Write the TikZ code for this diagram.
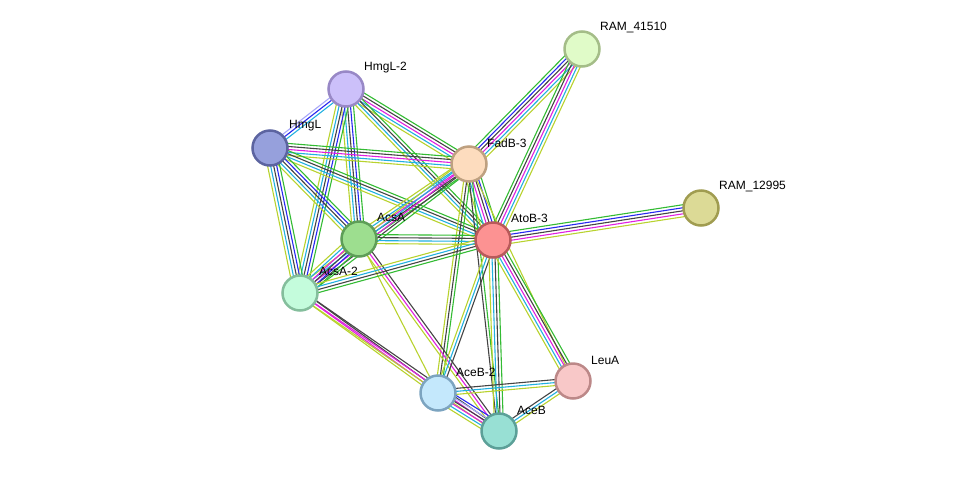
\documentclass[tikz,border=0pt]{standalone}
\usepackage{fontspec}
\setmainfont{Liberation Sans}
\usepackage{xcolor}
\definecolor{grn}{HTML}{33BB33}
\definecolor{blu}{HTML}{2828F0}
\definecolor{blk}{HTML}{444444}
\definecolor{mag}{HTML}{E020E0}
\definecolor{cyn}{HTML}{22B0E0}
\definecolor{yel}{HTML}{B8D22E}
\definecolor{lav}{HTML}{A8A8F8}
\usetikzlibrary{calc}
\pgfdeclarelayer{edges}
\pgfsetlayers{edges,main}
% one bundle of parallel evidence lines between two proteins
\newcommand{\linkset}[3]{%
  \foreach \c [count=\i] in {#3} {\xdef\nlines{\i}}%
  \foreach \c [count=\i] in {#3} {%
    \pgfmathsetmacro{\off}{((\nlines+1)/2-\i)*3}%
    \draw[link, \c] ($(#1)!\off pt!90:(#2)$) -- ($(#2)!\off pt!-90:(#1)$);
  }}

\begin{document}
\begin{tikzpicture}[x=1pt, y=-1pt,
    prot/.style={circle, minimum size=35pt, inner sep=0pt, line width=2.5pt},
    lbl/.style={anchor=west, inner sep=0pt, font=\fontsize{12}{14}\selectfont},
    link/.style={line width=1.1pt}]
  \useasboundingbox (0,0) rectangle (976,477);
  \node[prot, draw={rgb,255:red,164;green,189;blue,136}, fill={rgb,255:red,224;green,251;blue,200}] (r41) at (582,49) {};
  \node[prot, draw={rgb,255:red,152;green,136;blue,198}, fill={rgb,255:red,204;green,192;blue,250}] (hm2) at (346,89) {};
  \node[prot, draw={rgb,255:red,92;green,100;blue,160}, fill={rgb,255:red,150;green,160;blue,220}] (hm) at (270,148) {};
  \node[prot, draw={rgb,255:red,190;green,160;blue,128}, fill={rgb,255:red,253;green,220;blue,190}] (fad) at (469,164) {};
  \node[prot, draw={rgb,255:red,160;green,156;blue,80}, fill={rgb,255:red,220;green,218;blue,150}] (r12) at (701,208) {};
  \node[prot, draw={rgb,255:red,94;green,158;blue,88}, fill={rgb,255:red,157;green,222;blue,143}] (acs) at (359,239) {};
  \node[prot, draw={rgb,255:red,184;green,90;blue,90}, fill={rgb,255:red,252;green,146;blue,146}] (ato) at (493,240) {};
  \node[prot, draw={rgb,255:red,132;green,190;blue,156}, fill={rgb,255:red,196;green,252;blue,220}] (acs2) at (300,293) {};
  \node[prot, draw={rgb,255:red,188;green,136;blue,136}, fill={rgb,255:red,248;green,200;blue,200}] (leu) at (573,381) {};
  \node[prot, draw={rgb,255:red,124;green,164;blue,192}, fill={rgb,255:red,196;green,232;blue,252}] (aceb2) at (438,393) {};
  \node[prot, draw={rgb,255:red,92;green,160;blue,152}, fill={rgb,255:red,152;green,224;blue,212}] (aceb) at (499,431) {};

  \node[lbl] (lr41) at ($(r41)+(18,-21)$) {RAM\_41510};
  \node[lbl] (lhm2) at ($(hm2)+(18,-21)$) {HmgL-2};
  \node[lbl] (lhm) at ($(hm)+(19,-22)$) {HmgL};
  \node[lbl] (lfad) at ($(fad)+(18,-21)$) {FadB-3};
  \node[lbl] (lr12) at ($(r12)+(18,-22)$) {RAM\_12995};
  \node[lbl] (lacs) at ($(acs)+(18,-22)$) {AcsA};
  \node[lbl] (lato) at ($(ato)+(18,-22)$) {AtoB-3};
  \node[lbl] (lacs2) at ($(acs2)+(19,-22)$) {AcsA-2};
  \node[lbl] (lleu) at ($(leu)+(18,-21)$) {LeuA};
  \node[lbl] (laceb2) at ($(aceb2)+(18,-21)$) {AceB-2};
  \node[lbl] (laceb) at ($(aceb)+(18,-21)$) {AceB};

  \begin{pgfonlayer}{edges}
    \linkset{fad}{r41}{grn,blu,blk,mag,cyn,yel}
    \linkset{ato}{r41}{grn,blk,mag,cyn,yel}
    \linkset{ato}{r12}{grn,blu,blk,mag,yel}
    \linkset{hm}{hm2}{lav,blu,cyn}
    \linkset{hm2}{fad}{grn,blk,mag,cyn,yel}
    \linkset{hm2}{ato}{grn,blk,cyn,yel}
    \linkset{hm2}{acs}{grn,blu,blk,cyn,yel}
    \linkset{hm2}{acs2}{grn,blu,blk,cyn,yel}
    \linkset{hm}{fad}{grn,blk,mag,cyn,yel}
    \linkset{hm}{ato}{grn,blk,cyn,yel}
    \linkset{hm}{acs}{grn,blu,blk,cyn,yel}
    \linkset{hm}{acs2}{grn,blu,blk,cyn,yel}
    \linkset{fad}{ato}{grn,blu,blk,mag,cyn,yel}
    \linkset{fad}{acs}{grn,blk,mag,cyn,yel}
    \linkset{fad}{acs2}{grn,blk,mag,cyn,yel}
    \linkset{fad}{aceb2}{grn,blk,yel}
    \linkset{fad}{aceb}{grn,blk}
    \linkset{fad}{leu}{yel}
    \linkset{acs}{ato}{grn,blk,cyn,yel}
    \linkset{acs}{acs2}{grn,blu,blk,mag,cyn,yel}
    \linkset{acs}{aceb}{blk,mag,yel}
    \linkset{acs}{aceb2}{yel}
    \linkset{ato}{acs2}{grn,blk,cyn,yel}
    \linkset{ato}{aceb2}{blk,cyn,yel}
    \linkset{ato}{aceb}{grn,blk,cyn,yel}
    \linkset{ato}{leu}{grn,blk,mag,cyn,yel}
    \linkset{acs2}{aceb2}{blk,mag,yel}
    \linkset{acs2}{aceb}{blk,mag,yel}
    \linkset{aceb2}{aceb}{blu,lav,blk,mag,cyn,yel}
    \linkset{aceb2}{leu}{blk,cyn,yel}
    \linkset{aceb}{leu}{blk,cyn,yel}
  \end{pgfonlayer}
\end{tikzpicture}
\end{document}
